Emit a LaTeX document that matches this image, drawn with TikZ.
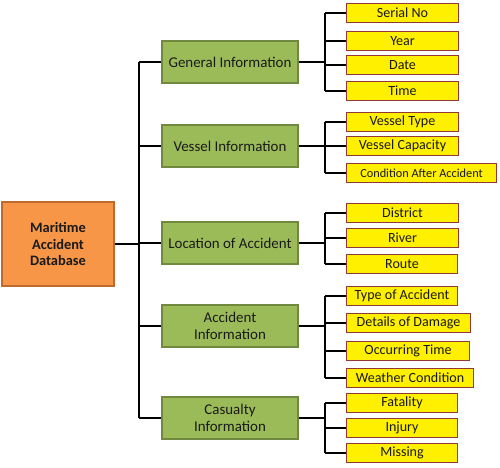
\documentclass[tikz,border=0pt]{standalone}
\usepackage{fontspec}
\setmainfont{Carlito}
\definecolor{rootfill}{HTML}{F79646}
\definecolor{rootline}{HTML}{C0692E}
\definecolor{groupfill}{HTML}{9BBB59}
\definecolor{groupline}{HTML}{71893F}
\definecolor{itemfill}{HTML}{FFF000}
\definecolor{itemline}{HTML}{953735}
\definecolor{inktext}{HTML}{1A1A1A}
\begin{document}
\begin{tikzpicture}[x=0.02cm,y=-0.02cm,
  rootbox/.style={draw=rootline,fill=rootfill,line width=0.8pt,minimum width=2.24cm,minimum height=1.68cm,align=center,text=inktext,font=\bfseries\fontsize{8.2}{9.5}\selectfont},
  groupbox/.style={draw=groupline,fill=groupfill,line width=0.8pt,minimum width=2.72cm,minimum height=0.84cm,align=center,text=inktext,font=\fontsize{8.5}{10}\selectfont},
  itembox/.style={draw=itemline,fill=itemfill,line width=0.6pt,anchor=west,minimum height=0.38cm,inner sep=1pt,text=inktext,font=\fontsize{8}{9}\selectfont},
  link/.style={line width=1.1pt}]

\useasboundingbox (0,0) rectangle (500,467);

% root and trunk
\node[rootbox] (root) at (58,244) {Maritime\\Accident\\Database};
\coordinate (trunk) at (139,244);

% groups
\foreach \name/\y/\txt in {gen/62/General Information, ves/146/Vessel Information, loc/243/Location of Accident, acc/326/Accident\\Information, cas/418/Casualty\\Information}
  \node[groupbox] (\name) at (230,\y) {\txt};

% items
\foreach \name/\y/\w/\txt in {sn/13/2.24/Serial No, yr/41/2.24/Year, dt/65/2.24/Date, tm/91/2.24/Time,
    vt/122/2.24/Vessel Type, vc/146/2.24/Vessel Capacity, ca/173/3.0/{\fontsize{7}{8}\selectfont Condition After Accident},
    di/213/2.24/District, ri/238/2.24/River, ro/264/2.22/Route,
    ta/296/2.22/Type of Accident, dd/323/2.48/Details of Damage, ot/351/2.46/Occurring Time, wc/378/2.54/Weather Condition,
    fa/403/2.22/Fatality, in/428/2.22/Injury, mi/453/2.22/Missing}
  \node[itembox,minimum width=\w cm] (\name) at (346,\y) {\txt};

% connectors
\draw[link] (root) -- (trunk);
\draw[link] (gen.west -| trunk) -- (cas.west -| trunk);
\foreach \g in {gen,ves,loc,acc,cas}
  \draw[link] (\g.west -| trunk) -- (\g.west);

\foreach \g/\first/\last/\kids in {gen/sn/tm/{sn,yr,dt,tm}, ves/vt/ca/{vt,vc,ca}, loc/di/ro/{di,ri,ro}, acc/ta/wc/{ta,dd,ot,wc}, cas/fa/mi/{fa,in,mi}} {
  \coordinate (\g-fork) at (325,0);
  \draw[link] (\g.east) -- (\g.east -| \g-fork);
  \draw[link] (\first.west -| \g-fork) -- (\last.west -| \g-fork);
  \foreach \k in \kids
    \draw[link] (\k.west -| \g-fork) -- (\k.west);
}
\end{tikzpicture}
\end{document}
